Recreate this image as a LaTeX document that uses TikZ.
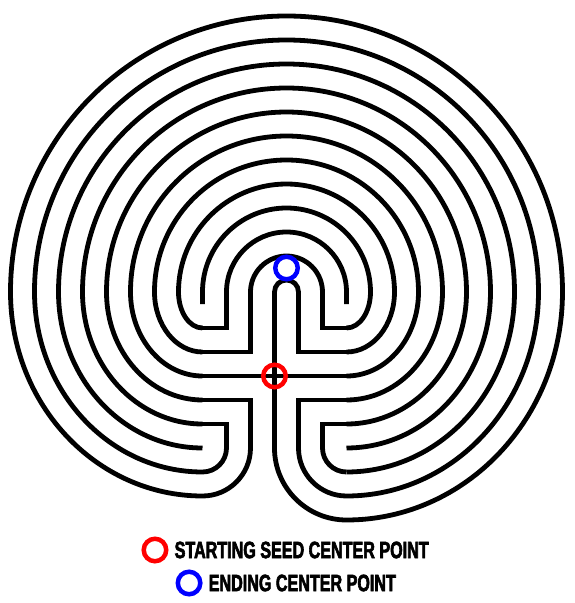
\documentclass[tikz,border=0pt]{standalone}
\usepackage{fontspec}
\usetikzlibrary{
	positioning                 % For "right=of node" syntax
}
\newfontfamily\legendfont{Liberation Sans}[UprightFont={* Bold}, FakeStretch=0.68, FakeBold=2.5]
\tikzset{
	wall/.style={
		draw,
		line width=4.8pt,
		black
	},
	seedline/.style={
		draw,
		line width=4.8pt,
		black,
		line cap=round
	},
	marker/.style={
		circle,
		draw,
		line width=4.5pt,
		minimum size=22.5pt,
		inner sep=0pt
	},
	legend/.style={
		inner sep=0pt,
		font=\legendfont\fontsize{23.7}{24}\selectfont
	}
}

\begin{document}
\begin{tikzpicture}[x=24pt, y=24pt]
		\useasboundingbox (-11.4375,-9.4583) rectangle (12.5208,15.6667);
		
		% Seed: cross and the nested corners
		\draw [seedline] (0,-3) -- (0,3);
		\draw [seedline] (-3,0) -- (3,0);
		\foreach \sx/\sy in {1/1, -1/1, 1/-1, -1/-1} {
			\draw [seedline] (\sx,3*\sy) -- (\sx,\sy) -- (3*\sx,\sy);
			\draw [seedline] (2*\sx,3*\sy) -- (2*\sx,2*\sy) -- (3*\sx,2*\sy);
		}
		
		% Inner walls: straight ends at the top of the seed
		\draw [wall] (0,3) -- (0,3.5) arc[start angle=180, end angle=0, radius=0.5] -- (1,3);
		\draw [wall] (-1,3) -- (-1,3.5) arc[start angle=180, end angle=0, radius=1.5] -- (2,3);
		\draw [wall] (-2,3) -- (-2,3.5) arc[start angle=180, end angle=0, radius=2.5] -- (3,3);
		\draw [wall] (-3,3) -- (-3,3.5) arc[start angle=180, end angle=0, radius=3.5]
			arc[start angle=0, end angle=-90, x radius=1, y radius=1.5];
		
		% Middle walls: side arm to side arm
		\foreach \k in {4,...,9} {
			\draw [wall] (-3,6-\k) arc[start angle=270, end angle=180, x radius=\k-3, y radius=\k-2.5]
				arc[start angle=180, end angle=0, radius=\k+0.5]
				arc[start angle=0, end angle=-90, x radius=\k-2, y radius=\k-1.5];
		}
		
		% Outer walls: turning up into the seed from below
		\draw [wall] (3,-4) arc[start angle=270, end angle=180, radius=1];
		\draw [wall] (-2,-3) arc[start angle=0, end angle=-90, radius=1]
			arc[start angle=270, end angle=180, x radius=7, y radius=7.5]
			arc[start angle=180, end angle=0, radius=10.5]
			arc[start angle=0, end angle=-90, x radius=8, y radius=8.5]
			arc[start angle=270, end angle=180, radius=2];
		\draw [wall] (-1,-3) arc[start angle=0, end angle=-90, radius=2]
			arc[start angle=270, end angle=180, x radius=8, y radius=8.5]
			arc[start angle=180, end angle=0, radius=11.5]
			arc[start angle=0, end angle=-90, x radius=9, y radius=9.5]
			arc[start angle=270, end angle=180, radius=3];
		
		% Points on the maze
		\node [marker, draw=red] (seed) at (0,0) {};
		\node [marker, draw=blue] (goal) at (0.5,4.5) {};
		
		% Key
		\node [marker, draw=red] (redkey) at (-4.98,-7.25) {};
		\node [legend, right=6pt of redkey] (startlabel) {STARTING SEED CENTER POINT};
		\node [marker, draw=blue] (bluekey) at (-3.56,-8.625) {};
		\node [legend, right=6pt of bluekey] (endlabel) {ENDING CENTER POINT};
	\end{tikzpicture}
\end{document}
